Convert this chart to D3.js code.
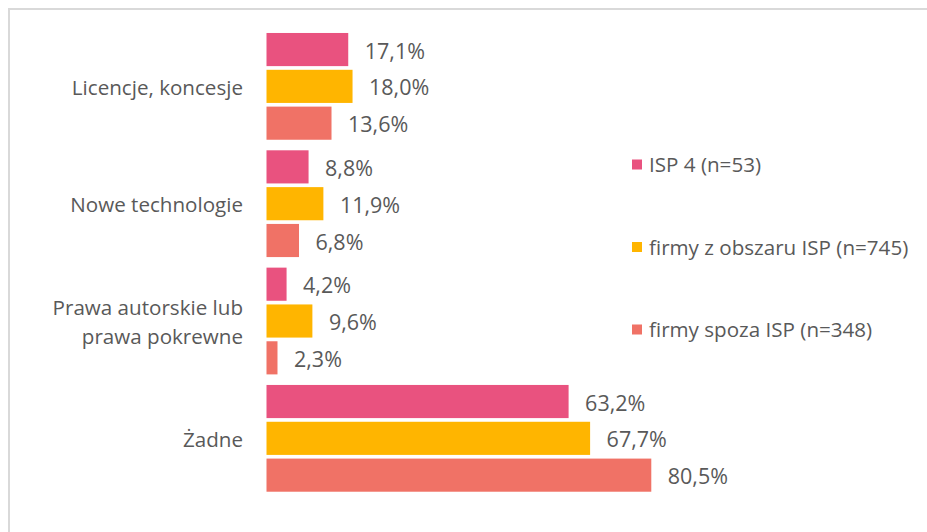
<!DOCTYPE html>
<html><head><meta charset="utf-8">
<script src="https://cdn.jsdelivr.net/npm/d3@7"></script>
<style>
html,body{margin:0;padding:0;background:#fff;}
text{font-family:"Open Sans",sans-serif;fill:#595959;}
</style></head>
<body>
<svg id="chart" width="927" height="532"></svg>
<script>
const categories = ["Licencje, koncesje", "Nowe technologie", "Prawa autorskie lub\nprawa pokrewne", "Żadne"];
const seriesNames = ["ISP 4 (n=53)", "firmy z obszaru ISP (n=745)", "firmy spoza ISP (n=348)"];
const seriesColors = ["#E9527F", "#FFB500", "#F07266"];
const isp4 = [17.1, 8.8, 4.2, 63.2];
const obszarISP = [18.0, 11.9, 9.6, 67.7];
const spozaISP = [13.6, 6.8, 2.3, 80.5];
const seriesValues = [isp4, obszarISP, spozaISP];

const svg = d3.select("#chart");
svg.append("rect").attr("x", 9).attr("y", 9).attr("width", 930).attr("height", 540)
  .attr("fill", "none").attr("stroke", "#d9d9d9").attr("stroke-width", 2);

const x = d3.scaleLinear().domain([0, 100]).range([266.5, 266.5 + 478]);
const y0 = d3.scaleBand().domain(categories).range([27.7, 497]).paddingInner(0.09).paddingOuter(0.045);
const y1 = d3.scaleBand().domain(d3.range(3)).range([0, y0.bandwidth()]).paddingInner(0.1);

const fmt = v => v.toFixed(1).replace(".", ",") + "%";
const catSize = 20.6, valSize = 21.5;

const g = svg.append("g");
categories.forEach((c, ci) => {
  const gg = g.append("g").attr("transform", `translate(0,${y0(c)})`);
  seriesValues.forEach((vals, si) => {
    const v = vals[ci];
    gg.append("rect")
      .attr("x", x(0)).attr("y", y1(si))
      .attr("width", x(v) - x(0)).attr("height", y1.bandwidth())
      .attr("fill", seriesColors[si]);
    gg.append("text")
      .attr("x", x(v) + 16.5).attr("y", y1(si) + y1.bandwidth() / 2)
      .attr("dy", "0.42em")
      .style("font-size", valSize + "px")
      .text(fmt(v));
  });
  const lines = c.split("\n");
  const t = gg.append("text").attr("text-anchor", "end").style("font-size", catSize + "px")
    .attr("x", 243).attr("y", y0.bandwidth() / 2 + 1);
  lines.forEach((l, li) => {
    t.append("tspan").attr("x", 243)
      .attr("dy", li === 0 ? (0.36 - (lines.length - 1) * 0.7) + "em" : "1.4em")
      .text(l);
  });
});

const legY = d3.scalePoint().domain(seriesNames).range([165, 330]);
seriesNames.forEach((s, si) => {
  svg.append("rect").attr("x", 632).attr("y", legY(s) - 5.5).attr("width", 10).attr("height", 10)
    .attr("fill", seriesColors[si]);
  svg.append("text").attr("x", 649).attr("y", legY(s)).attr("dy", "0.36em")
    .style("font-size", catSize + "px").text(s);
});
</script>
</body></html>
